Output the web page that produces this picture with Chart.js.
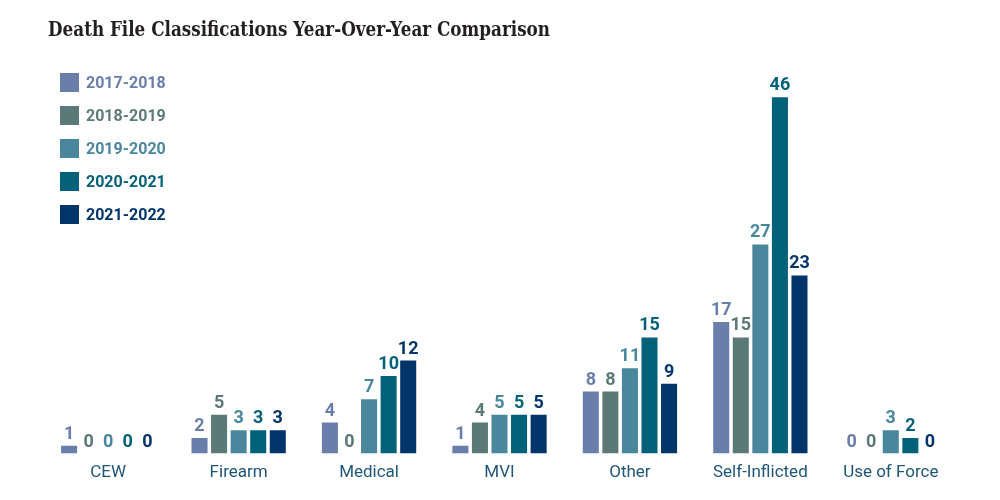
<!DOCTYPE html>
<html>
<head>
<meta charset="utf-8">
<script src="https://cdn.jsdelivr.net/npm/chart.js@4/dist/chart.umd.min.js"></script>
<style>
  html, body { margin: 0; padding: 0; background: #ffffff; }
  #wrap { position: relative; width: 1000px; height: 500px; overflow: hidden; }
  #title { position: absolute; left: 48px; top: 17px; font-family: "DejaVu Serif", serif; font-weight: bold; font-size: 20px; color: #231f20; white-space: nowrap; transform-origin: 0 0; }
  #legend { position: absolute; left: 60px; top: 73px; font-family: Roboto, sans-serif; font-weight: bold; font-size: 16px; }
  .item { display: flex; align-items: center; height: 19px; margin-bottom: 14px; }
  .sw { width: 19px; height: 19px; margin-right: 7px; }
  canvas { position: absolute; left: 0; top: 0; }
</style>
</head>
<body>
<div id="wrap">
  <canvas id="c" width="1000" height="500"></canvas>
  <div id="title">Death File Classifications Year-Over-Year Comparison</div>
  <div id="legend"></div>
</div>
<script>
const categories = ["CEW", "Firearm", "Medical", "MVI", "Other", "Self-Inflicted", "Use of Force"];
const seriesLabels = ["2017-2018", "2018-2019", "2019-2020", "2020-2021", "2021-2022"];
const colors = ["#6a7eaa", "#5b7a77", "#4a879c", "#03627a", "#03346a"];
const v2017 = [1, 2, 4, 1, 8, 17, 0];
const v2018 = [0, 5, 0, 4, 8, 15, 0];
const v2019 = [0, 3, 7, 5, 11, 27, 3];
const v2020 = [0, 3, 10, 5, 15, 46, 2];
const v2021 = [0, 3, 12, 5, 9, 23, 0];
const seriesValues = [v2017, v2018, v2019, v2020, v2021];

// HTML legend
const legend = document.getElementById('legend');
seriesLabels.forEach((l, i) => {
  const d = document.createElement('div');
  d.className = 'item';
  d.innerHTML = '<span class="sw" style="background:' + colors[i] + '"></span><span style="color:' + colors[i] + '">' + l + '</span>';
  legend.appendChild(d);
});
// fit title width
const t = document.getElementById('title');
const tw = t.getBoundingClientRect().width;
t.style.transform = 'scaleX(' + (502 / tw) + ')';

const valueLabels = {
  id: 'valueLabels',
  afterDatasetsDraw(chart) {
    const ctx = chart.ctx;
    ctx.save();
    ctx.font = 'bold 18px Roboto, sans-serif';
    ctx.textAlign = 'center';
    ctx.textBaseline = 'alphabetic';
    chart.data.datasets.forEach((ds, i) => {
      const meta = chart.getDatasetMeta(i);
      ctx.fillStyle = ds.backgroundColor;
      meta.data.forEach((bar, j) => {
        ctx.fillText(String(ds.data[j]), bar.x, bar.y - 7);
      });
    });
    ctx.restore();
  }
};

new Chart(document.getElementById('c'), {
  type: 'bar',
  data: {
    labels: categories,
    datasets: seriesLabels.map((l, i) => ({
      label: l,
      data: seriesValues[i],
      backgroundColor: colors[i],
      categoryPercentage: 0.75,
      barPercentage: 0.82
    }))
  },
  options: {
    responsive: false,
    animation: false,
    layout: { padding: { left: 43, right: 44, top: 60, bottom: 16 } },
    plugins: { legend: { display: false }, tooltip: { enabled: false } },
    scales: {
      x: {
        grid: { display: false },
        border: { display: false },
        ticks: { color: '#1d5679', font: { family: 'Roboto, sans-serif', size: 17 }, padding: 1 }
      },
      y: { display: false, min: 0, max: 50.8 }
    }
  },
  plugins: [valueLabels]
});
</script>
</body>
</html>
